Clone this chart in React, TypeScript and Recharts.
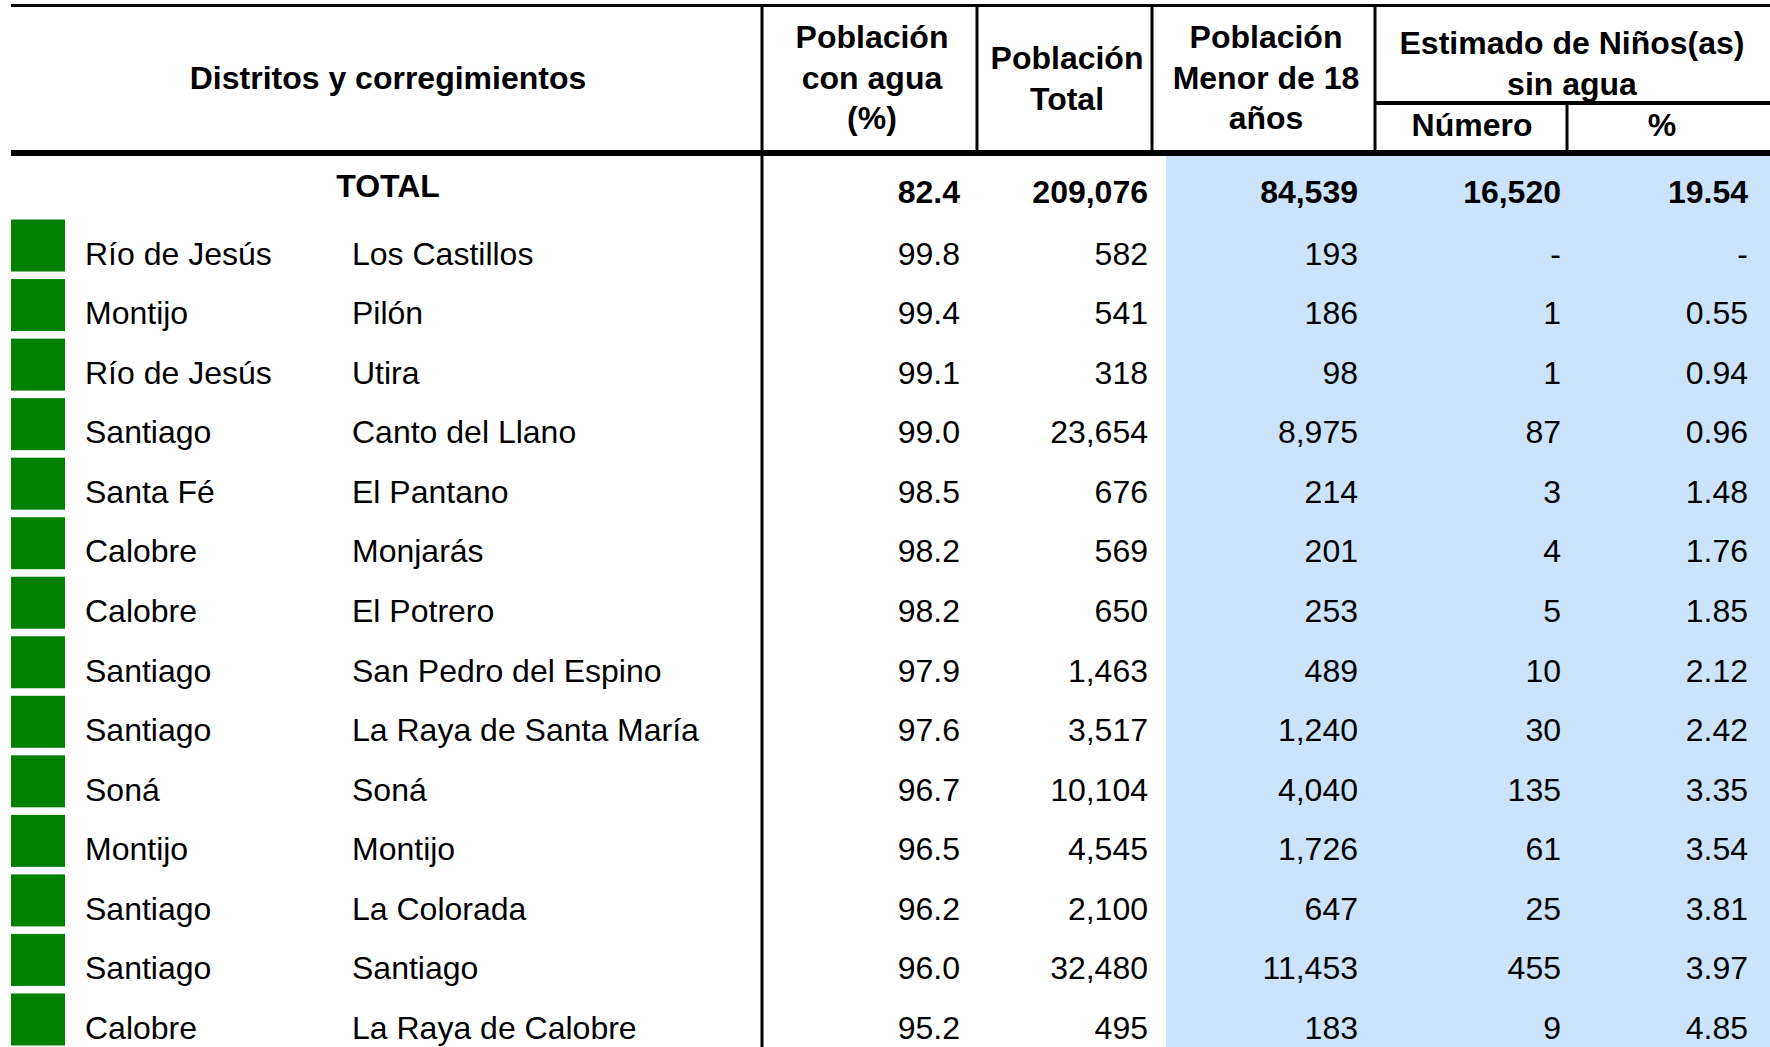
import React from 'react';
import { ComposedChart, Bar, XAxis, YAxis, ReferenceArea, Customized } from 'recharts';

const distritos = [
  'Río de Jesús', 'Montijo', 'Río de Jesús', 'Santiago', 'Santa Fé', 'Calobre', 'Calobre',
  'Santiago', 'Santiago', 'Soná', 'Montijo', 'Santiago', 'Santiago', 'Calobre',
];
const corregimientos = [
  'Los Castillos', 'Pilón', 'Utira', 'Canto del Llano', 'El Pantano', 'Monjarás', 'El Potrero',
  'San Pedro del Espino', 'La Raya de Santa María', 'Soná', 'Montijo', 'La Colorada', 'Santiago', 'La Raya de Calobre',
];
const conAgua = [99.8, 99.4, 99.1, 99.0, 98.5, 98.2, 98.2, 97.9, 97.6, 96.7, 96.5, 96.2, 96.0, 95.2];
const poblacionTotal = [582, 541, 318, 23654, 676, 569, 650, 1463, 3517, 10104, 4545, 2100, 32480, 495];
const menor18 = [193, 186, 98, 8975, 214, 201, 253, 489, 1240, 4040, 1726, 647, 11453, 183];
const sinAguaNum = [null, 1, 1, 87, 3, 4, 5, 10, 30, 135, 61, 25, 455, 9];
const sinAguaPct = [null, 0.55, 0.94, 0.96, 1.48, 1.76, 1.85, 2.12, 2.42, 3.35, 3.54, 3.81, 3.97, 4.85];

const totalConAgua = 82.4;
const totalPoblacion = 209076;
const totalMenor18 = 84539;
const totalSinAguaNum = 16520;
const totalSinAguaPct = 19.54;

type Row = {
  key: string;
  distrito: string;
  conAgua: number;
  poblacion: number;
  menor18: number;
  sinAguaNum: number | null;
  sinAguaPct: number | null;
  marca: number | null;
  total?: boolean;
};

const rows: Row[] = [
  {
    key: 'TOTAL', distrito: '', conAgua: totalConAgua, poblacion: totalPoblacion, menor18: totalMenor18,
    sinAguaNum: totalSinAguaNum, sinAguaPct: totalSinAguaPct, marca: null, total: true,
  },
  ...corregimientos.map((c, i) => ({
    key: c,
    distrito: distritos[i],
    conAgua: conAgua[i],
    poblacion: poblacionTotal[i],
    menor18: menor18[i],
    sinAguaNum: sinAguaNum[i],
    sinAguaPct: sinAguaPct[i],
    marca: 1,
  })),
];
const rowByKey: Record<string, Row> = Object.fromEntries(rows.map((r) => [r.key, r]));

const FONT = '"Liberation Sans", Arial, sans-serif';
const WIDTH = 1770;

// column layout (pixels)
const numCols: { right: number; fmt: (r: Row) => string }[] = [
  { right: 960, fmt: (r) => r.conAgua.toFixed(1) },
  { right: 1148, fmt: (r) => r.poblacion.toLocaleString('en-US') },
  { right: 1358, fmt: (r) => r.menor18.toLocaleString('en-US') },
  { right: 1561, fmt: (r) => (r.sinAguaNum == null ? '-' : r.sinAguaNum.toLocaleString('en-US')) },
  { right: 1748, fmt: (r) => (r.sinAguaPct == null ? '-' : r.sinAguaPct.toFixed(2)) },
];

const RowTick = (props: any) => {
  const { y, payload } = props;
  const row = rowByKey[payload.value];
  if (!row) return null;
  if (row.total) {
    return (
      <g fontFamily={FONT} fontSize={32} fontWeight="bold" fill="#000">
        <text x={388} y={y + 11} textAnchor="middle">TOTAL</text>
        {numCols.map((c, i) => (
          <text key={i} x={c.right} y={y + 17} textAnchor="end">{c.fmt(row)}</text>
        ))}
      </g>
    );
  }
  return (
    <g fontFamily={FONT} fontSize={32} fill="#000">
      <text x={85} y={y + 19.5}>{row.distrito}</text>
      <text x={352} y={y + 19.5}>{row.key}</text>
      {numCols.map((c, i) => (
        <text key={i} x={c.right} y={y + 19.5} textAnchor="end">{c.fmt(row)}</text>
      ))}
    </g>
  );
};

const Marker = (props: any) => {
  const { y, height, payload } = props;
  if (!payload || payload.marca == null) return null;
  return <rect x={11} y={y} width={54} height={height} fill="#008000" />;
};

const HeaderText = ({ x, y, lines }: { x: number; y: number; lines: string[] }) => (
  <text x={x} y={y} textAnchor="middle" fontFamily={FONT} fontSize={32} fontWeight="bold" fill="#000">
    {lines.map((l, i) => (
      <tspan key={i} x={x} dy={i === 0 ? 0 : 40.6}>{l}</tspan>
    ))}
  </text>
);

const TableFrame = () => (
  <g>
    <rect x={11} y={4} width={WIDTH - 11} height={3} fill="#000" />
    <rect x={11} y={150} width={WIDTH - 11} height={6} fill="#000" />
    <rect x={1375} y={101} width={WIDTH - 1375} height={4} fill="#000" />
    <rect x={760.5} y={4} width={3} height={1050} fill="#000" />
    <rect x={975.5} y={4} width={3} height={148} fill="#000" />
    <rect x={1150.5} y={4} width={3} height={148} fill="#000" />
    <rect x={1373.5} y={4} width={3} height={148} fill="#000" />
    <rect x={1565.5} y={103} width={3} height={48} fill="#000" />
    <HeaderText x={388} y={89} lines={['Distritos y corregimientos']} />
    <HeaderText x={872} y={48} lines={['Población', 'con agua', '(%)']} />
    <HeaderText x={1067} y={69} lines={['Población', 'Total']} />
    <HeaderText x={1266} y={48} lines={['Población', 'Menor de 18', 'años']} />
    <HeaderText x={1572} y={54} lines={['Estimado de Niños(as)', 'sin agua']} />
    <HeaderText x={1472} y={136} lines={['Número']} />
    <HeaderText x={1662} y={136} lines={['%']} />
  </g>
);

export default function App() {
  return (
    <div style={{ position: 'absolute', left: 0, top: 0, width: WIDTH, height: 1047, overflow: 'hidden', background: '#fff' }}>
      <ComposedChart
        width={WIDTH}
        height={1049}
        data={rows}
        layout="vertical"
        margin={{ top: 156, right: 0, bottom: 0, left: 0 }}
      >
        <XAxis type="number" domain={[1, WIDTH]} hide allowDataOverflow />
        <ReferenceArea x1={1166} x2={WIDTH} fill="#cce4fb" fillOpacity={1} stroke="none" />
        <Bar dataKey="marca" barSize={52} shape={<Marker />} isAnimationActive={false} />
        <YAxis
          type="category"
          dataKey="key"
          width={1}
          axisLine={false}
          tickLine={false}
          interval={0}
          tick={<RowTick />}
        />
        <Customized component={<TableFrame />} />
      </ComposedChart>
    </div>
  );
}
